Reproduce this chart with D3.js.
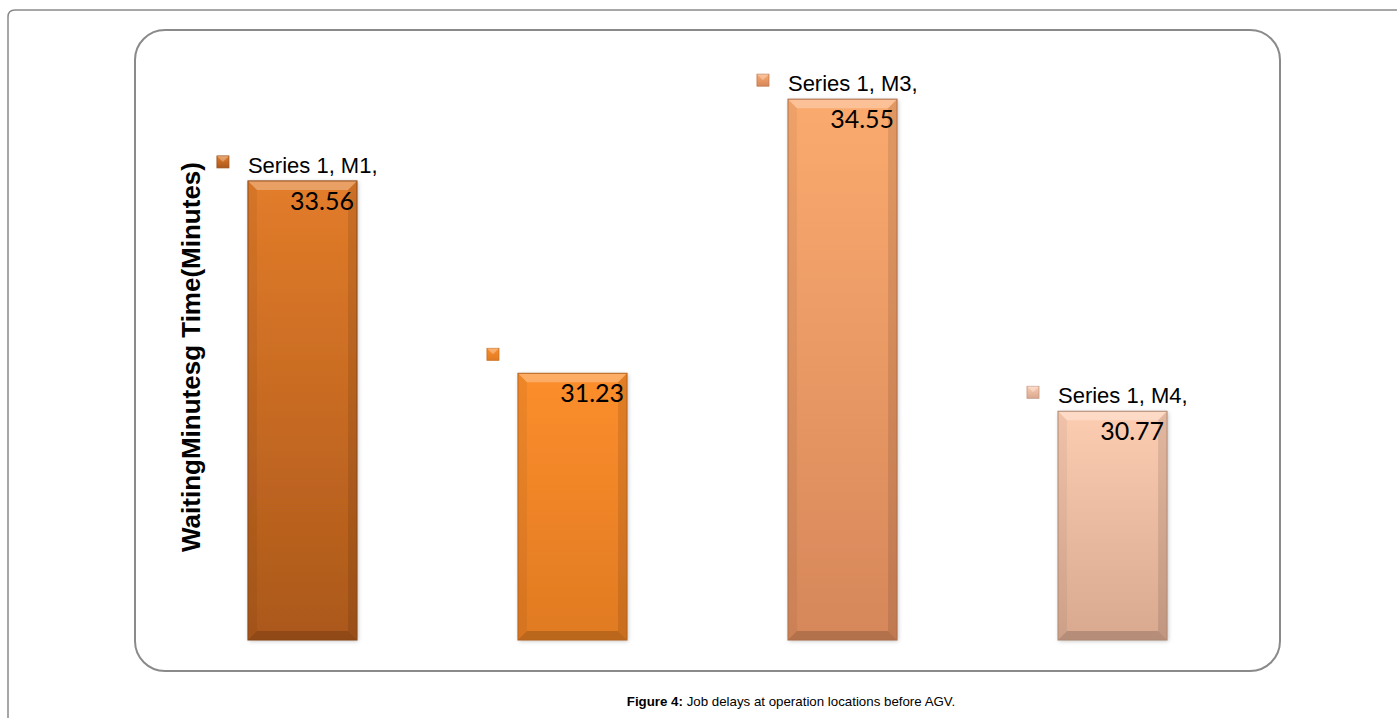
<!DOCTYPE html>
<html lang="en">
<head>
<meta charset="utf-8">
<title>Job delays at operation locations before AGV</title>
<script src="https://d3js.org/d3.v7.min.js"></script>
<style>
  body { margin: 0; background: #fff; }
  svg { display: block; }
</style>
</head>
<body>
<div id="chart"></div>
<script>
// data
var categories = ["M1", "M2", "M3", "M4"];
var values = [33.56, 31.23, 34.55, 30.77];
var seriesName = "Series 1";
var showName = [true, false, true, true];
var topColors = ["#e27c2a", "#fc8e2c", "#fbaa6e", "#fdcdb2"];
var bottomColors = ["#ab581b", "#e07a22", "#d6875a", "#d8a88f"];
var yTitle = "WaitingMinutesg Time(Minutes)";

var W = 1397, H = 718;

var svg = d3.select("#chart").append("svg")
    .attr("width", W)
    .attr("height", H);

var defs = svg.append("defs");

// outer page frame (top + left edges)
svg.append("path")
    .attr("d", "M8,718 L8,17 Q8,10 15,10 L1397,10")
    .attr("fill", "none")
    .attr("stroke", "#8a8a8a")
    .attr("stroke-width", 1.5);

// chart area rounded box
svg.append("rect")
    .attr("x", 135).attr("y", 30)
    .attr("width", 1145).attr("height", 641)
    .attr("rx", 30).attr("ry", 30)
    .attr("fill", "#fff")
    .attr("stroke", "#8a8a8a")
    .attr("stroke-width", 2);

// scales
var x = d3.scaleBand().domain(categories).range([87, 1328]).padding(0.596);
var y = d3.scaleLinear().domain([28, 35]).range([640, 62]);

// shadow filter
var f = defs.append("filter").attr("id", "shadow")
    .attr("x", "-10%").attr("y", "-10%").attr("width", "125%").attr("height", "125%");
f.append("feDropShadow").attr("dx", 1).attr("dy", 1).attr("stdDeviation", 2)
    .attr("flood-color", "#000").attr("flood-opacity", 0.25);

categories.forEach(function(c, i) {
    var g = defs.append("linearGradient").attr("id", "grad" + i)
        .attr("x1", 0).attr("y1", 0).attr("x2", 0).attr("y2", 1);
    g.append("stop").attr("offset", "0%").attr("stop-color", topColors[i]);
    g.append("stop").attr("offset", "100%").attr("stop-color", bottomColors[i]);
});

var bev = 9;

var bars = svg.selectAll(".bar")
    .data(values)
    .enter().append("g")
    .attr("class", "bar");

bars.each(function(d, i) {
    var gb = d3.select(this);
    var x0 = x(categories[i]), w = x.bandwidth();
    var y0 = y(d), y1 = y(28), h = y1 - y0;

    gb.append("rect")
        .attr("x", x0).attr("y", y0)
        .attr("width", w).attr("height", h)
        .attr("fill", "url(#grad" + i + ")")
        .attr("filter", "url(#shadow)");

    // bevel edges
    var x1 = x0 + w;
    gb.append("polygon")  // top
        .attr("points", [[x0, y0], [x1, y0], [x1 - bev, y0 + bev], [x0 + bev, y0 + bev]].join(" "))
        .attr("fill", "#fff").attr("opacity", 0.28);
    gb.append("polygon")  // left
        .attr("points", [[x0, y0], [x0 + bev, y0 + bev], [x0 + bev, y1 - bev], [x0, y1]].join(" "))
        .attr("fill", "#000").attr("opacity", 0.05);
    gb.append("polygon")  // right
        .attr("points", [[x1, y0], [x1 - bev, y0 + bev], [x1 - bev, y1 - bev], [x1, y1]].join(" "))
        .attr("fill", "#000").attr("opacity", 0.1);
    gb.append("polygon")  // bottom
        .attr("points", [[x0, y1], [x0 + bev, y1 - bev], [x1 - bev, y1 - bev], [x1, y1]].join(" "))
        .attr("fill", "#000").attr("opacity", 0.16);
    gb.append("rect")
        .attr("x", x0).attr("y", y0)
        .attr("width", w).attr("height", h)
        .attr("fill", "none")
        .attr("stroke", d3.color(bottomColors[i]).darker(0.6))
        .attr("stroke-width", 1);

    // legend-key marker
    var mx = x0 - 31, my = y0 - 25;
    gb.append("rect")
        .attr("x", mx).attr("y", my)
        .attr("width", 12).attr("height", 12)
        .attr("fill", "url(#grad" + i + ")")
        .attr("stroke", d3.color(bottomColors[i]).darker(0.3))
        .attr("stroke-width", 0.8);
    gb.append("polygon")
        .attr("points", [[mx, my], [mx + 12, my], [mx + 6, my + 6]].join(" "))
        .attr("fill", "#fff").attr("opacity", 0.3);

    if (showName[i]) {
        gb.append("text")
            .attr("x", x0)
            .attr("y", y0 - 8)
            .attr("font-family", "Liberation Sans, Arial, sans-serif")
            .attr("font-size", 22)
            .attr("fill", "#000")
            .text(seriesName + ", " + categories[i] + ",");
    }

    gb.append("text")
        .attr("x", x1 - 3)
        .attr("y", y0 + 29)
        .attr("text-anchor", "end")
        .attr("font-family", "Lato, Open Sans, sans-serif")
        .attr("font-size", 25)
        .attr("fill", "#000")
        .text(d.toFixed(2));
});

// y axis title
svg.append("text")
    .attr("transform", "translate(200,357) rotate(-90)")
    .attr("text-anchor", "middle")
    .attr("font-family", "Liberation Sans, Arial, sans-serif")
    .attr("font-weight", "bold")
    .attr("font-size", 26)
    .attr("fill", "#000")
    .text(yTitle);

// caption
var cap = svg.append("text")
    .attr("x", 791)
    .attr("y", 706)
    .attr("text-anchor", "middle")
    .attr("font-family", "Liberation Sans, Arial, sans-serif")
    .attr("font-size", 13.3)
    .attr("fill", "#000");
cap.append("tspan").attr("font-weight", "bold").text("Figure 4:");
cap.append("tspan").text(" Job delays at operation locations before AGV.");
</script>
</body>
</html>
